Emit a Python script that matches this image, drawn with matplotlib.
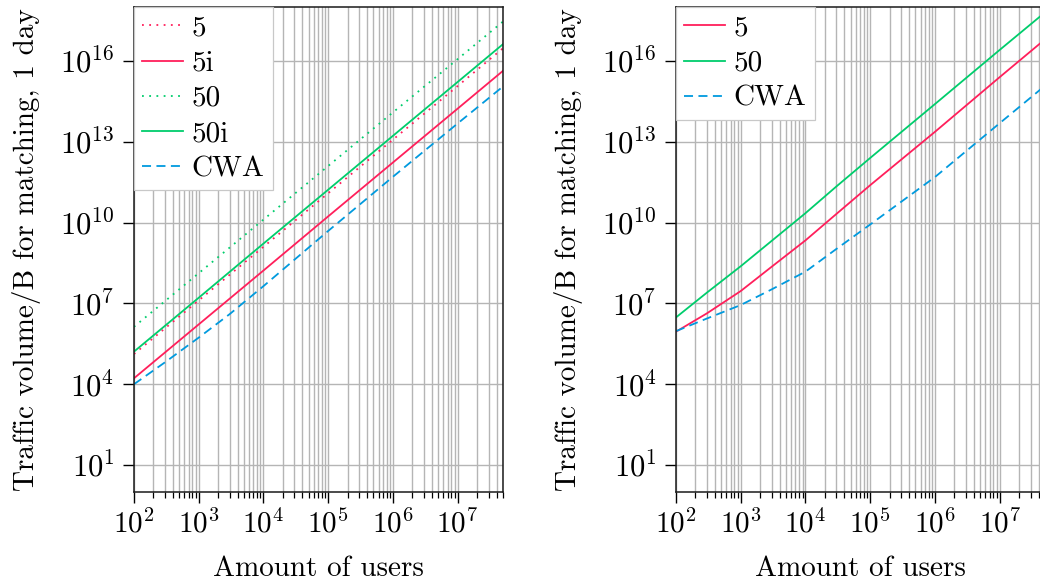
import matplotlib
matplotlib.use("Agg")
import matplotlib.pyplot as plt
from matplotlib.ticker import FixedLocator, LogLocator, NullLocator, LogFormatterSciNotation

# Number of users (x) and daily matching traffic in bytes (y)
users = [1e2, 1e3, 1e4, 1e5, 1e6, 1e7, 5e7]
users_cwa = [1e2, 3e2, 1e3, 3e3, 1e4, 1e5, 1e6, 1e7, 5e7]
users_fine = [1e2, 3e2, 1e3, 3e3, 1e4, 3e4, 1e5, 1e6, 1e7, 5e7]

# Left panel
traffic_5 = [1.32e5, 1.29e7, 1.26e9, 1.23e11, 1.20e13, 1.17e15, 2.95e16]
traffic_5i = [1.66e4, 1.66e6, 1.66e8, 1.70e10, 1.70e12, 1.70e14, 4.27e15]
traffic_50 = [1.35e6, 1.32e8, 1.29e10, 1.26e12, 1.23e14, 1.17e16, 2.88e17]
traffic_50i = [1.62e5, 1.62e7, 1.66e9, 1.66e11, 1.66e13, 1.66e15, 4.17e16]
traffic_cwa_left = [1.0e4, 6.46e4, 5.37e5, 3.98e6, 4.37e7, 4.90e9, 5.01e11, 4.79e13, 1.12e15]

# Right panel
traffic_5_r = [8.91e5, 4.27e6, 2.88e7, 2.29e8, 2.19e9, 2.09e10, 2.45e11, 2.34e13, 2.51e15, 6.31e16]
traffic_50_r = [3.02e6, 2.51e7, 2.40e8, 2.09e9, 2.24e10, 2.19e11, 2.51e12, 2.51e14, 2.57e16, 6.31e17]
traffic_cwa_r = [9.33e5, 2.75e6, 8.71e6, 3.31e7, 1.51e8, 1.05e9, 8.51e9, 4.90e11, 4.90e13, 1.20e15]

y_ticks = [1e1, 1e4, 1e7, 1e10, 1e13, 1e16]

RED = "#ff1f5b"
GREEN = "#00cd6c"
BLUE = "#009ade"
GRID = "#b5b5b5"

plt.rcParams.update({
    "font.family": "cmr10",
    "mathtext.fontset": "cm",
    "axes.formatter.use_mathtext": True,
    "axes.unicode_minus": False,
    "font.size": 21,
})

fig = plt.figure(figsize=(10.4, 5.86), dpi=100)
ax_l = fig.add_axes([0.1288, 0.1604, 0.3548, 0.8276])
ax_r = fig.add_axes([0.6500, 0.1604, 0.3548, 0.8276])

DOT = (0, (1, 3))
DASH = (0, (5, 3))
LW = 1.3

ax_l.plot(users, traffic_5, color=RED, ls=DOT, lw=LW, label="5")
ax_l.plot(users, traffic_5i, color=RED, ls="-", lw=LW, label="5i")
ax_l.plot(users, traffic_50, color=GREEN, ls=DOT, lw=LW, label="50")
ax_l.plot(users, traffic_50i, color=GREEN, ls="-", lw=LW, label="50i")
ax_l.plot(users_cwa, traffic_cwa_left, color=BLUE, ls=DASH, lw=LW, label="CWA")

ax_r.plot(users_fine, traffic_5_r, color=RED, ls="-", lw=LW, label="5")
ax_r.plot(users_fine, traffic_50_r, color=GREEN, ls="-", lw=LW, label="50")
ax_r.plot(users_fine, traffic_cwa_r, color=BLUE, ls=DASH, lw=LW, label="CWA")

for ax in (ax_l, ax_r):
    ax.set_xscale("log")
    ax.set_yscale("log")
    ax.set_xlim(1e2, 5e7)
    ax.set_ylim(1e0, 1e18)
    ax.xaxis.set_major_locator(LogLocator(base=10, numticks=20))
    ax.xaxis.set_minor_locator(LogLocator(base=10, subs=range(2, 10), numticks=100))
    ax.xaxis.set_major_formatter(LogFormatterSciNotation())
    ax.yaxis.set_major_locator(FixedLocator(y_ticks))
    ax.yaxis.set_minor_locator(NullLocator())
    ax.yaxis.set_major_formatter(LogFormatterSciNotation())
    ax.grid(True, which="major", axis="both", color=GRID, lw=1.0)
    ax.grid(True, which="minor", axis="x", color=GRID, lw=1.0)
    ax.set_axisbelow(True)
    ax.tick_params(which="major", direction="out", length=8, width=1.0, color="black", pad=4)
    ax.tick_params(axis="y", which="major", labelsize=22, pad=6)
    ax.tick_params(which="minor", direction="out", length=4.5, width=0.9, color="black")
    for s in ax.spines.values():
        s.set_linewidth(1.1)
        s.set_color("#1a1a1a")
    ax.set_xlabel("Amount of users", labelpad=13)
    ax.set_ylabel("Traffic volume/B for matching, 1 day", labelpad=14)
    leg = ax.legend(loc="upper left", borderaxespad=0, handlelength=1.4,
                    handletextpad=0.3, labelspacing=0.3, borderpad=0.28,
                    fancybox=False, framealpha=1, edgecolor="#c8c8c8")
    leg.get_frame().set_linewidth(0.9)

fig.savefig("out.png", dpi=100)
